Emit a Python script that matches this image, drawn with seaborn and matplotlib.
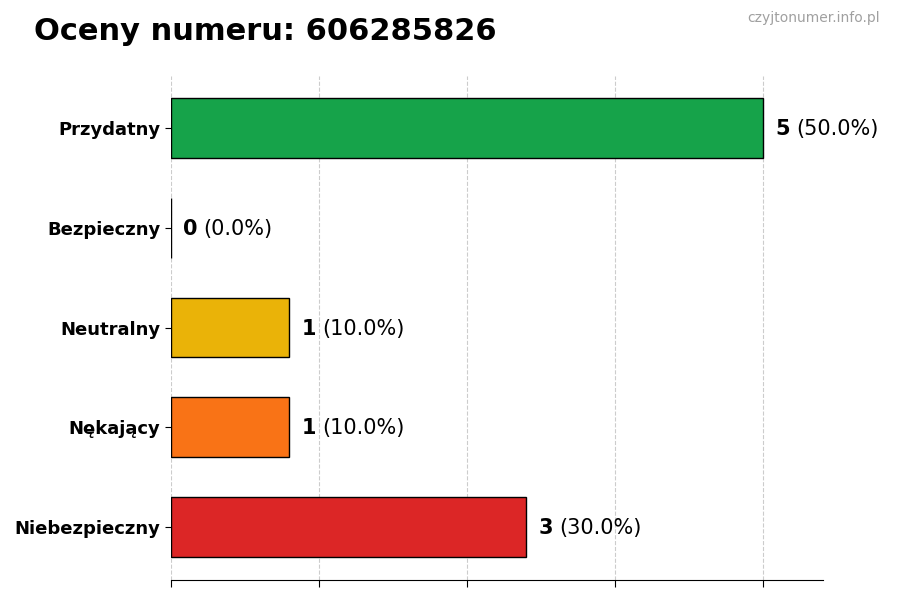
import pandas as pd
import seaborn as sns
import matplotlib.pyplot as plt

sns.set_style('white')
plt.rcParams['font.family'] = ['DejaVu Sans']
plt.rcParams['text.color'] = 'black'
plt.rcParams['xtick.color'] = 'black'
plt.rcParams['ytick.color'] = 'black'
plt.rcParams['axes.edgecolor'] = 'black'

# --- dane ---
kategorie = ['Przydatny', 'Bezpieczny', 'Neutralny', 'Nękający', 'Niebezpieczny']
liczby = [5, 0, 1, 1, 3]
kolory = ['#16a34a', '#3b82f6', '#eab308', '#f97316', '#dc2626']
numer = '606285826'

df = pd.DataFrame({'kategoria': kategorie, 'liczba': liczby})
suma = sum(liczby)

fig = plt.figure(figsize=(9, 6), dpi=100)
ax = fig.add_axes([0.19, 0.0333, 0.724, 0.84])

sns.barplot(data=df, x='liczba', y='kategoria', hue='kategoria',
            palette=kolory, orient='h', width=0.6, saturation=1,
            edgecolor='black', linewidth=1, legend=False, ax=ax)

maks = max(liczby)
ax.set_xlim(0, maks * 1.1)
ax.set_ylim(4.53, -0.52)
ax.set_xticks([maks * i / 4 for i in range(5)])
ax.set_xticklabels([])
ax.set_xlabel('')
ax.set_ylabel('')
ax.grid(axis='x', linestyle='--', color='#cccccc', linewidth=0.8)
ax.set_axisbelow(True)
for s in ['top', 'right', 'left']:
    ax.spines[s].set_visible(False)
ax.tick_params(axis='y', left=True, length=4, labelsize=13, labelcolor='black')
ax.tick_params(axis='x', bottom=True, length=5)
for lab in ax.get_yticklabels():
    lab.set_fontweight('bold')

# etykiety wartości
for i, v in enumerate(liczby):
    t = ax.text(v + maks * 0.02, i + 0.01, str(v), fontsize=15, fontweight='bold',
                va='center', ha='left', color='black')
    ax.annotate(f'({v / suma * 100:.1f}%)', xy=(1, 0.5), xycoords=t,
                xytext=(4.6, 0), textcoords='offset points',
                fontsize=15, va='center', ha='left', color='black')

fig.text(0.038, 0.947, f'Oceny numeru: {numer}', fontsize=22,
         fontweight='bold', ha='left', va='center', color='black')
fig.text(0.978, 0.97, 'czyjtonumer.info.pl', fontsize=10,
         color='#a0a0a0', ha='right', va='center')

fig.savefig('out.png', dpi=100)
